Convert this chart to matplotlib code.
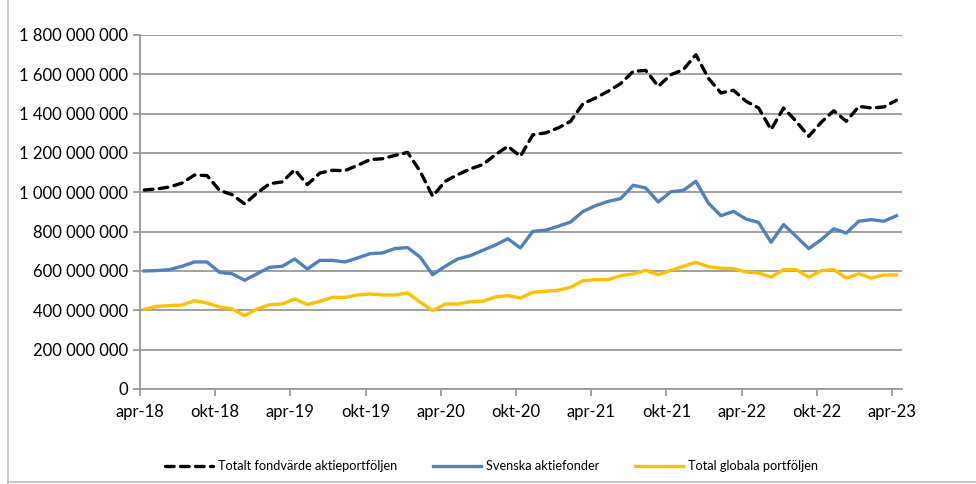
import numpy as np
import matplotlib
matplotlib.use("Agg")
import matplotlib.pyplot as plt
from matplotlib.ticker import FuncFormatter, MultipleLocator

plt.rcParams['font.family'] = ['Lato', 'DejaVu Sans']

# monthly values apr-18 .. apr-23 (MSEK)
totalt = [1012, 1017, 1027, 1047, 1088, 1085, 1010, 988, 941, 997,
          1044, 1053, 1115, 1039, 1098, 1112, 1110, 1137, 1166, 1171,
          1188, 1203, 1107, 980, 1056, 1090, 1119, 1141, 1191, 1234,
          1183, 1293, 1302, 1327, 1361, 1451, 1480, 1514, 1553, 1615,
          1620, 1539, 1598, 1624, 1700, 1580, 1505, 1519, 1463, 1429,
          1319, 1429, 1361, 1285, 1356, 1415, 1361, 1437, 1429, 1434,
          1468]
svenska = [600, 602, 607, 624, 646, 646, 593, 586, 553, 586,
           619, 624, 661, 610, 654, 654, 646, 666, 688, 692,
           714, 719, 671, 581, 624, 661, 678, 705, 732, 764,
           717, 802, 807, 827, 849, 903, 932, 954, 968, 1036,
           1022, 951, 1003, 1010, 1056, 945, 881, 903, 864, 847,
           746, 836, 776, 714, 759, 815, 793, 853, 861, 853,
           881]
globala = [405, 420, 424, 427, 449, 437, 417, 407, 373, 407,
           429, 432, 458, 429, 446, 466, 466, 478, 483, 478,
           478, 488, 442, 398, 432, 432, 444, 446, 468, 475,
           463, 492, 497, 502, 517, 551, 556, 556, 576, 585,
           603, 581, 603, 624, 644, 622, 614, 612, 595, 590,
           569, 607, 607, 568, 602, 607, 564, 586, 564, 580,
           580]
tick_labels = ["apr-18", "okt-18", "apr-19", "okt-19", "apr-20", "okt-20",
               "apr-21", "okt-21", "apr-22", "okt-22", "apr-23"]
names = ["Totalt fondvärde aktieportföljen", "Svenska aktiefonder",
         "Total globala portföljen"]

x = np.arange(len(totalt)) + 0.35

fig = plt.figure(figsize=(9.76, 4.84), dpi=100)
ax = fig.add_axes([0.1434, 0.1963, 0.7806, 0.7314])

ax.plot(x, np.array(totalt) * 1e6, color="black", lw=2.4,
        linestyle=(0, (2.6, 1.9)), dash_capstyle="round", label=names[0])
ax.plot(x, np.array(svenska) * 1e6, color="#4F81BD", lw=2.4, label=names[1])
ax.plot(x, np.array(globala) * 1e6, color="#FFC000", lw=2.4, label=names[2])

ax.set_ylim(0, 1.8e9)
ax.yaxis.set_major_locator(MultipleLocator(2e8))
ax.yaxis.set_major_formatter(FuncFormatter(lambda v, p: f"{int(v):,}".replace(",", " ")))
ax.set_xlim(0, 60.78)
ax.set_xticks(np.arange(0, 61, 6))
ax.set_xticklabels(tick_labels)

ax.grid(axis="y", color="#999999", lw=1.3)
ax.set_axisbelow(True)
for s in ["top", "right"]:
    ax.spines[s].set_visible(False)
for s in ["left", "bottom"]:
    ax.spines[s].set_color("#999999")
    ax.spines[s].set_linewidth(1.3)
ax.tick_params(axis="both", colors="#999999", length=5, width=1.3,
               labelcolor="black", labelsize=12)
ax.tick_params(axis="x", pad=6)

fig.legend(loc="center", bbox_to_anchor=(0.504, 1 - 466 / 484), ncol=3,
           frameon=False, fontsize=9.2, handlelength=3.7, columnspacing=2.8,
           handletextpad=0.45)

# chart frame
fig.add_artist(plt.Line2D([0.008, 0.008], [0, 1], color="#bbbbbb", lw=1.2,
                          transform=fig.transFigure))
fig.add_artist(plt.Line2D([0.008, 1], [0.004, 0.004], color="#bbbbbb", lw=1.2,
                          transform=fig.transFigure))

fig.savefig("out.png", dpi=100)
